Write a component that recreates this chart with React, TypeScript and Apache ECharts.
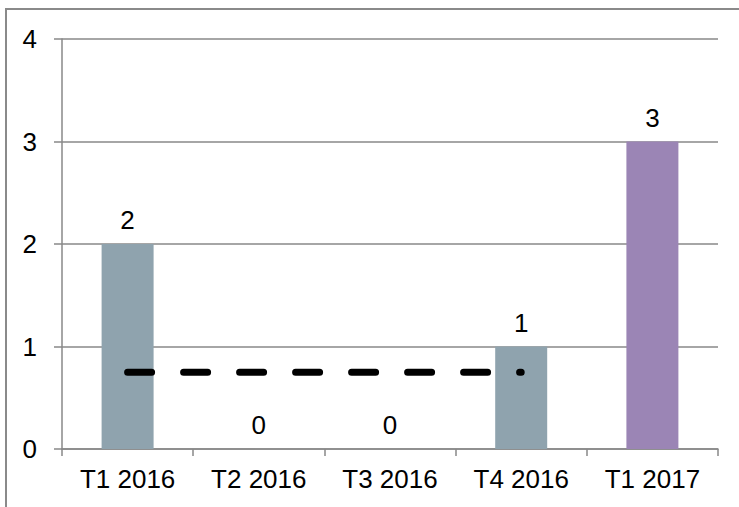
import React, { useEffect, useRef } from "react";
import * as echarts from "echarts";

const categories = ["T1 2016", "T2 2016", "T3 2016", "T4 2016", "T1 2017"];
const barValues = [2, 0, 0, 1, 3];
const barColors = ["#8FA3AE", "#8FA3AE", "#8FA3AE", "#8FA3AE", "#9B85B5"];
const trendValues: (number | null)[] = [0.75, 0.75, 0.75, 0.75, null];
const yTicks = { min: 0, max: 4, interval: 1 };

export default function App() {
  const ref = useRef<HTMLDivElement>(null);
  useEffect(() => {
    if (!ref.current) return;
    const chart = echarts.init(ref.current, undefined, { renderer: "svg" });
    const font = "'Liberation Sans', Arial, sans-serif";
    chart.setOption({
      animation: false,
      backgroundColor: "#ffffff",
      textStyle: { fontFamily: font },
      grid: { left: 62, right: 21, top: 39, bottom: 58, containLabel: false },
      graphic: [
        {
          type: "rect",
          shape: { x: 6, y: 9, width: 800, height: 600 },
          style: { fill: "none", stroke: "#8a8a8a", lineWidth: 2 },
          silent: true,
          z: 100,
        },
      ],
      xAxis: {
        type: "category",
        data: categories,
        axisLine: { show: true, lineStyle: { color: "#888888", width: 1.5 } },
        axisTick: { show: true, length: 7, inside: false, lineStyle: { color: "#888888", width: 1.5 } },
        axisLabel: { color: "#000", fontSize: 26, margin: 17, fontFamily: font },
        splitLine: { show: false },
      },
      yAxis: {
        type: "value",
        min: yTicks.min,
        max: yTicks.max,
        interval: yTicks.interval,
        axisLine: { show: true, lineStyle: { color: "#888888", width: 1.5 } },
        axisTick: { show: true, length: 8, inside: false, lineStyle: { color: "#888888", width: 1.5 } },
        axisLabel: { color: "#000", fontSize: 26, margin: 25, fontFamily: font },
        splitLine: { show: true, lineStyle: { color: "#888888", width: 1.5 } },
      },
      series: [
        {
          type: "bar",
          data: barValues.map((v, i) => ({ value: v, itemStyle: { color: barColors[i] } })),
          barWidth: 52,
          label: {
            show: true,
            position: "top",
            distance: 11,
            color: "#000",
            fontSize: 26,
            fontFamily: font,
          },
          z: 2,
        },
        {
          type: "line",
          data: trendValues,
          symbol: "none",
          lineStyle: { color: "#000", width: 7, type: [24, 32], cap: "round" },
          z: 3,
        },
      ],
    });
    return () => chart.dispose();
  }, []);
  return (
    <div
      ref={ref}
      style={{ position: "fixed", left: 0, top: 0, width: 739, height: 507 }}
    />
  );
}
